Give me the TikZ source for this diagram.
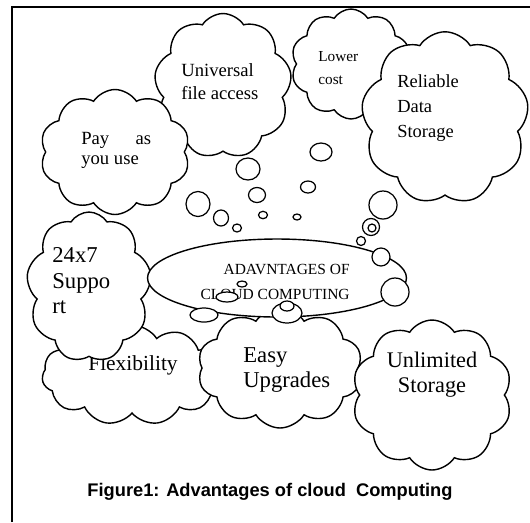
\documentclass[tikz,border=0pt]{standalone}
\usepackage{fontspec}
\setmainfont{Liberation Serif}
\newfontfamily\capfont{Liberation Sans}
\usetikzlibrary{shapes.symbols,shapes.geometric}

\begin{document}
\begin{tikzpicture}[x=0.02cm,y=-0.02cm,
    cloudy/.style={draw,cloud,cloud ignores aspect,cloud puff arc=115,fill=white,line width=0.8pt,inner sep=0pt},
    txt/.style={inner sep=0pt,anchor=west,align=left},
    bubble/.style={draw,fill=white,line width=0.7pt}]
    \useasboundingbox (0,0) rectangle (530,522);
    %Marco
    \draw[line width=1.2pt] (12,522) -- (12,7) -- (530,7);
    %Nubes de abajo
    \node[cloudy,cloud puffs=11,minimum width=3.6cm,minimum height=2cm] (flex) at (132,375) {};
    \node[txt,font=\fontsize{12.2}{14}\selectfont] (flextxt) at (88,365) {Flexibility};
    \node[cloudy,cloud puffs=9,minimum width=2.5cm,minimum height=3cm] (supp) at (89,287) {};
    \node[txt,font=\fontsize{12.9}{14.5}\selectfont] (supptxt) at (52,281) {24x7\\Suppo\\rt};
    \node[cloudy,cloud puffs=10,minimum width=3.3cm,minimum height=2.4cm] (easy) at (280,368) {};
    \node[txt,font=\fontsize{12.9}{14.2}\selectfont] (easytxt) at (243,370) {Easy\\Upgrades};
    \node[cloudy,cloud puffs=10,minimum width=3.2cm,minimum height=3cm] (unlim) at (432,395) {};
    \node[inner sep=0pt,align=center,font=\fontsize{12.7}{14.2}\selectfont] (unlimtxt) at (432,375) {Unlimited\\Storage};
    %Nubes de arriba
    \node[cloudy,cloud puffs=9,minimum width=2.75cm,minimum height=2.9cm] (univ) at (223,86) {};
    \node[txt,font=\fontsize{10.6}{13}\selectfont] (univtxt) at (181,82) {Universal\\file access};
    \node[cloudy,cloud puffs=10,minimum width=3cm,minimum height=2.5cm] (pay) at (115,152) {};
    \node[txt,font=\fontsize{10.6}{11.3}\selectfont] (paytxt) at (81,150) {Pay\hspace{15pt}as\\you use};
    \node[cloudy,cloud puffs=10,minimum width=2.4cm,minimum height=2.2cm] (low) at (351,64) {};
    \node[txt,font=\fontsize{8.7}{13}\selectfont] (lowtxt) at (318,68) {Lower\\cost};
    \node[cloudy,cloud puffs=9,minimum width=3.35cm,minimum height=3.45cm] (relia) at (445,118) {};
    \node[txt,font=\fontsize{10.5}{14}\selectfont] (reliatxt) at (397,108) {Reliable\\Data\\Storage};
    %Centro
    \node[draw,ellipse,fill=white,line width=0.8pt,minimum width=5.18cm,minimum height=1.56cm,inner sep=0pt] (adv) at (277,278) {};
    \node[inner sep=0pt,anchor=east,align=right,font=\fontsize{8.8}{14}\selectfont] (advtxt) at (350,282) {ADAVNTAGES OF\\CLOUD COMPUTING};
    %Burbujas
    \foreach \x/\y/\a/\b in {248/169/12/11, 257/195/8.5/7.5, 263/215/4.5/3.7, 321/152/11/9,
        308/187/7.5/6, 297/217/4/3, 198/204/12/12.5, 221/218/7.5/8, 237/228/4.5/4,
        383/205/14/14, 371/227/8.5/8.5, 372/228/4/4, 361/241/4.5/4.5, 381/257/9/9,
        395/292/14/14, 204/315/14/7, 227/297/11/5, 242/284/5/3, 287/313/15/10, 287/306/7/5}
        \draw[bubble] (\x,\y) ellipse [x radius=\a, y radius=\b];
    %Pie
    \node[font=\capfont\bfseries\fontsize{10.4}{12}\selectfont] (caption) at (270,492) {Figure1: Advantages of cloud\ \ Computing};
\end{tikzpicture}
\end{document}
